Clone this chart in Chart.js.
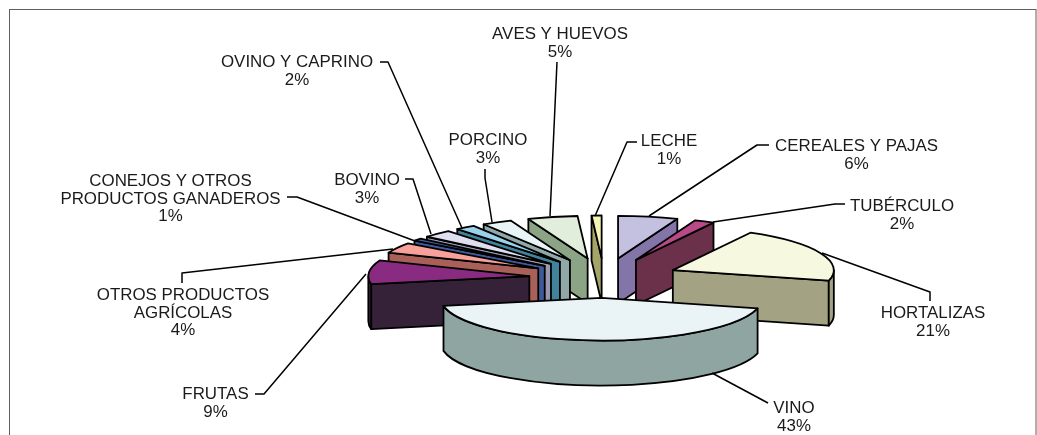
<!DOCTYPE html>
<html lang="es">
<head>
<meta charset="utf-8">
<title>Producción agraria</title>
<style>
html,body{margin:0;padding:0;background:#fff;overflow:hidden}
canvas{display:block}
</style>
<script src="https://cdn.jsdelivr.net/npm/chart.js@4/dist/chart.umd.min.js"></script>
</head>
<body>
<canvas id="c" width="1037" height="435"></canvas>
<script>
// ---- data ----
const categories = ["CEREALES Y PAJAS","TUBÉRCULO","HORTALIZAS","VINO","FRUTAS","OTROS PRODUCTOS AGRÍCOLAS","CONEJOS Y OTROS PRODUCTOS GANADEROS","BOVINO","OVINO Y CAPRINO","PORCINO","AVES Y HUEVOS","LECHE"];
const shares = [6,2,21,43,9,4,1,3,2,3,5,1];
const topColors  = ["#c4c0e0","#b84a88","#f7f8e0","#eaf3f6","#8a2b82","#f8a09a","#3f62ac","#dfdff0","#99d2ea","#e8f4f6","#e2eedc","#f4f4b4"];
const sideColors = ["#8375a8","#6b304a","#a3a384","#8fa5a2","#352238","#a86058","#3f5a9a","#9898b0","#40849c","#90a8a8","#8ca486","#a4a468"];

// ---- presentation ----
const TILT = 0.265, EXPLODE = 75, DEPTH = 45, RADIUS = 161;
const labelLayout = [
  {lines:["CEREALES Y PAJAS"], cx:856.5, y:151, leader:[[769,145],[757,145],[649,216]]},
  {lines:["TUBÉRCULO"], cx:902, y:211, leader:[[845,204],[835,204],[713,222]]},
  {lines:["HORTALIZAS"], cx:933, y:318, leader:[[930,301],[930,292],[822,253]]},
  {lines:["VINO"], cx:794, y:413, leader:[[768,403],[712,373]]},
  {lines:["FRUTAS"], cx:215.5, y:399, leader:[[255,394],[264,394],[366,274]]},
  {lines:["OTROS PRODUCTOS","AGRÍCOLAS"], cx:183, y:300, leader:[[182,283],[182,273],[393,249]]},
  {lines:["CONEJOS Y OTROS","PRODUCTOS GANADEROS"], cx:170.5, y:186, leader:[[287,197],[297,197],[415,241]]},
  {lines:["BOVINO"], cx:367, y:185, leader:[[405,179],[413,179],[431,234]]},
  {lines:["OVINO Y CAPRINO"], cx:297, y:67, leader:[[380,62],[388,62],[462,228]]},
  {lines:["PORCINO"], cx:488, y:145, leader:[[485,169],[485,178],[492,222]]},
  {lines:["AVES Y HUEVOS"], cx:560, y:39, leader:[[557,62],[550,216]]},
  {lines:["LECHE"], cx:669, y:146, leader:[[637,142],[627,142],[595,216]]}
];

const pie3d = {
  id:'pie3d',
  beforeDatasetsDraw(chart){
    const ctx = chart.ctx, arcs = chart.getDatasetMeta(0).data;
    const slices = arcs.map((a,i)=>{
      const p = a.getProps(['x','y','startAngle','endAngle','outerRadius'],true);
      const mid = (p.startAngle+p.endAngle)/2;
      return {i,R:p.outerRadius,t0:p.startAngle,t1:p.endAngle,mid,
        ax:p.x+Math.cos(mid)*EXPLODE, ay:p.y+Math.sin(mid)*EXPLODE*TILT};
    });
    slices.sort((a,b)=>Math.sin(a.mid)-Math.sin(b.mid));
    ctx.save();
    ctx.lineWidth = 1.8; ctx.strokeStyle = '#000'; ctx.lineJoin = 'round';
    const paint = fill => { ctx.fillStyle = fill; ctx.fill(); ctx.stroke(); };
    for (const s of slices){
      const {ax,ay,R,t0,t1,i} = s, ry = R*TILT;
      const wall = t => {
        const px = ax+Math.cos(t)*R, py = ay+Math.sin(t)*ry;
        ctx.beginPath(); ctx.moveTo(ax,ay); ctx.lineTo(px,py);
        ctx.lineTo(px,py+DEPTH); ctx.lineTo(ax,ay+DEPTH); ctx.closePath();
        paint(sideColors[i]);
      };
      // radial walls that face the viewer
      if (Math.cos(t0) < -1e-6) wall(t0);
      if (Math.cos(t1) > 1e-6) wall(t1);
      // outer rim, only its front half
      const a = Math.max(t0,0), b = Math.min(t1,Math.PI);
      if (b > a){
        ctx.beginPath();
        ctx.ellipse(ax,ay,R,ry,0,a,b);
        ctx.lineTo(ax+Math.cos(b)*R, ay+Math.sin(b)*ry+DEPTH);
        ctx.ellipse(ax,ay+DEPTH,R,ry,0,b,a,true);
        ctx.closePath();
        paint(sideColors[i]);
      }
      // top face
      ctx.beginPath();
      ctx.moveTo(ax,ay);
      ctx.ellipse(ax,ay,R,ry,0,t0,t1);
      ctx.closePath();
      paint(topColors[i]);
    }
    ctx.restore();
    return false;
  },
  afterDraw(chart){
    const ctx = chart.ctx;
    ctx.save();
    ctx.strokeStyle = '#5f5f5f'; ctx.lineWidth = 1;
    ctx.strokeRect(9.5,9.5,1026.5,440);
    ctx.strokeStyle = '#000'; ctx.lineWidth = 1.5; ctx.lineJoin='round';
    ctx.font = '16.9px "Liberation Sans", Arial, sans-serif';
    ctx.textAlign = 'center'; ctx.textBaseline = 'alphabetic';
    labelLayout.forEach((l,i)=>{
      ctx.beginPath();
      l.leader.forEach((p,k)=> k ? ctx.lineTo(p[0],p[1]) : ctx.moveTo(p[0],p[1]));
      ctx.stroke();
      ctx.fillStyle = '#1a1a1a';
      const rows = l.lines.concat([shares[i]+'%']);
      rows.forEach((t,k)=> ctx.fillText(t,l.cx,l.y+k*17.5));
    });
    ctx.restore();
  }
};

new Chart(document.getElementById('c'),{
  type:'pie',
  data:{labels:categories,datasets:[{data:shares,backgroundColor:topColors,borderWidth:0,radius:RADIUS}]},
  plugins:[pie3d],
  options:{
    responsive:false,animation:false,rotation:0,
    layout:{padding:{left:443,right:272,top:121,bottom:0}},
    plugins:{legend:{display:false},title:{display:false},tooltip:{enabled:false}}
  }
});
</script>
</body>
</html>
